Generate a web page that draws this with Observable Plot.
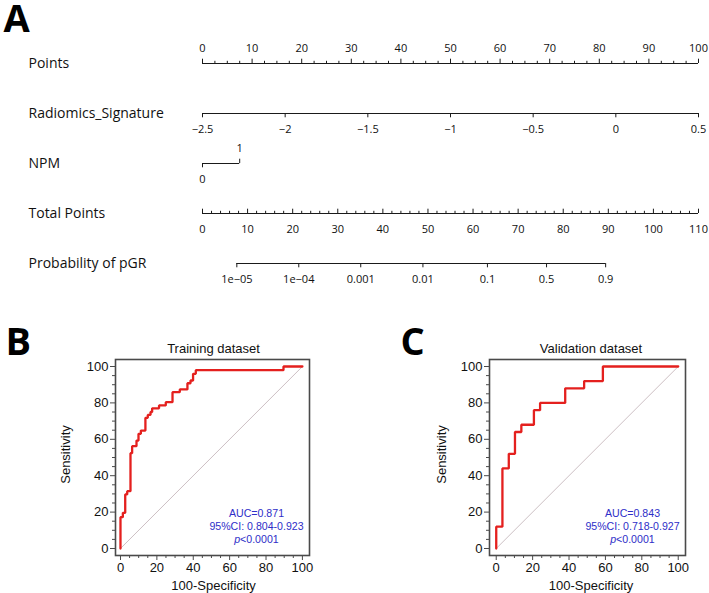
<!DOCTYPE html>
<html><head><meta charset="utf-8">
<script src="https://cdn.jsdelivr.net/npm/d3@7"></script>
<script src="https://cdn.jsdelivr.net/npm/@observablehq/plot@0.6"></script>
<style>
body{margin:0;background:#fff;}
#wrap{position:relative;width:709px;height:593px;overflow:hidden;background:#fff;}
#wrap > div{position:absolute;}
</style></head><body>
<div id="wrap"><div id="nom" style="left:0;top:0"></div><div id="rocB" style="left:0;top:300px"></div><div id="rocC" style="left:355px;top:300px"></div></div>
<script>
// ---------- Panel A: nomogram ----------
const rowNames = ["Points", "Radiomics_Signature", "NPM", "Total Points", "Probability of pGR"];
const pointsMajor = [0, 10, 20, 30, 40, 50, 60, 70, 80, 90, 100];
const pointsMinorStep = 2.5;
const radTicks = [-2.5, -2, -1.5, -1, -0.5, 0, 0.5];
const radLabels = ["\u22122.5", "\u22122", "\u22121.5", "\u22121", "\u22120.5", "0", "0.5"];
const npmLevels = ["0", "1"];
const npmPoints = [0, 7.5];
const totalMajor = [0, 10, 20, 30, 40, 50, 60, 70, 80, 90, 100, 110];
const totalMinorStep = 2;
const totalMax = 110;
const probTicks = [1e-5, 1e-4, 0.001, 0.01, 0.1, 0.5, 0.9];
const probLabels = ["1e\u221205", "1e\u221204", "0.001", "0.01", "0.1", "0.5", "0.9"];
const probIntercept = 76.3;   // total points at logit = 0
const probSlope = 5.966;      // total points per logit unit

const radToPts = v => (v - radTicks[0]) / (radTicks[radTicks.length - 1] - radTicks[0]) * 100;
const totToPts = t => t / totalMax * 100;
const probToPts = p => totToPts(probIntercept + probSlope * Math.log(p / (1 - p)));

const axesLines = [
  {row: rowNames[0], x1: 0, x2: 100},
  {row: rowNames[1], x1: radToPts(radTicks[0]), x2: radToPts(radTicks[radTicks.length - 1])},
  {row: rowNames[2], x1: npmPoints[0], x2: npmPoints[1]},
  {row: rowNames[3], x1: 0, x2: totToPts(totalMax)},
  {row: rowNames[4], x1: probToPts(probTicks[0]), x2: probToPts(probTicks[probTicks.length - 1])}
];
const upMajor = [], upMinor = [], downMajor = [], above = [], below = [];
pointsMajor.forEach(v => { upMajor.push({row: rowNames[0], x: v}); above.push({row: rowNames[0], x: v, t: String(v)}); });
d3.range(0, 100.001, pointsMinorStep).filter(v => v % 10 !== 0).forEach(v => upMinor.push({row: rowNames[0], x: v}));
radTicks.forEach((v, i) => { downMajor.push({row: rowNames[1], x: radToPts(v)}); below.push({row: rowNames[1], x: radToPts(v), t: radLabels[i]}); });
downMajor.push({row: rowNames[2], x: npmPoints[0]}); below.push({row: rowNames[2], x: npmPoints[0], t: npmLevels[0]});
upMajor.push({row: rowNames[2], x: npmPoints[1]}); above.push({row: rowNames[2], x: npmPoints[1], t: npmLevels[1]});
totalMajor.forEach(v => { upMajor.push({row: rowNames[3], x: totToPts(v)}); below.push({row: rowNames[3], x: totToPts(v), t: String(v)}); });
d3.range(0, totalMax + 0.001, totalMinorStep).filter(v => v % 10 !== 0).forEach(v => upMinor.push({row: rowNames[3], x: totToPts(v)}));
probTicks.forEach((p, i) => { downMajor.push({row: rowNames[4], x: probToPts(p)}); below.push({row: rowNames[4], x: probToPts(p), t: probLabels[i]}); });

const nom = Plot.plot({
  width: 709, height: 300,
  marginLeft: 202, marginRight: 11, marginTop: 0, marginBottom: 0,
  x: {domain: [0, 100], axis: null},
  y: {type: "point", domain: rowNames, range: [61, 264], padding: 0, axis: null},
  style: {fontFamily: "'Open Sans', 'Noto Sans', sans-serif", fontSize: "11px", color: "#111", background: "white"},
  marks: [
    Plot.ruleY(axesLines, {y: "row", x1: "x1", x2: "x2", stroke: "#1a1a1a", strokeWidth: 1.1}),
    Plot.ruleX(upMajor, {x: "x", y1: "row", y2: "row", insetTop: -4.3, insetBottom: 0, stroke: "#1a1a1a", strokeWidth: 1}),
    Plot.ruleX(upMinor, {x: "x", y1: "row", y2: "row", insetTop: -2.2, insetBottom: 0, stroke: "#1a1a1a", strokeWidth: 1}),
    Plot.ruleX(downMajor, {x: "x", y1: "row", y2: "row", insetTop: 0, insetBottom: -4.3, stroke: "#1a1a1a", strokeWidth: 1}),
    Plot.text(above, {x: "x", y: "row", text: "t", dy: -15, fontSize: 11, fill: "#111"}),
    Plot.text(below, {x: "x", y: "row", text: "t", dy: 15.5, fontSize: 11, fill: "#111"}),
    Plot.text(rowNames, {y: d => d, text: d => d, frameAnchor: "left", dx: -174, dy: 0.5, textAnchor: "start", fontSize: 14, fill: "#111"}),
    Plot.text(["A"], {frameAnchor: "top-left", dx: -199, dy: 5, textAnchor: "start", lineAnchor: "top", fontSize: 38, fontWeight: "bold", fill: "#000"})
  ]
});
document.getElementById("nom").appendChild(nom);

// ---------- Panels B & C: ROC curves ----------
const trainFpr = [0, 0, 1.3, 2.6, 3.7, 5.5, 6.4, 8.8, 9.9, 11.2, 13.7, 15.0, 16.5, 17.4, 21.2, 24.9, 28.6, 32.6, 36.8, 38.5, 39.9, 41.4, 89.6, 100];
const trainTpr = [0, 17.2, 19.6, 29.7, 31.5, 52.4, 56.2, 59.3, 63.0, 64.8, 71.8, 73.4, 75.0, 77.0, 78.6, 80.4, 85.9, 87.4, 90.8, 92.3, 96.0, 98.0, 100, 100];
const validFpr = [0, 0, 3.4, 6.9, 10.3, 13.8, 20.7, 24.1, 37.9, 48.3, 58.6, 100];
const validTpr = [0, 12, 44, 52, 64, 68, 76, 80, 88, 92, 100, 100];
const diag = [0, 100];
const rocTicksMajor = [0, 20, 40, 60, 80, 100];
const rocTicksMinor = [5, 10, 15, 25, 30, 35, 45, 50, 55, 65, 70, 75, 85, 90, 95];

function roc(o) {
  const data = o.fpr.map((f, i) => ({fpr: f, tpr: o.tpr[i]}));
  const blue = "#2e2ec8";
  return Plot.plot({
    width: o.width, height: 293,
    marginLeft: o.ml, marginRight: o.mr, marginTop: 59, marginBottom: 38,
    x: {domain: o.xd, axis: null},
    y: {domain: [-3.85, 103.85], axis: null},
    style: {fontFamily: "'Liberation Sans', Arial, sans-serif", fontSize: "13px", color: "#111", background: "white"},
    marks: [
      Plot.line(diag, {x: d => d, y: d => d, stroke: "#bfaeb4", strokeWidth: 0.8}),
      Plot.line(data, {x: "fpr", y: "tpr", curve: "step-after", stroke: "#e4201e", strokeWidth: 2.3, strokeLinejoin: "miter"}),
      Plot.frame({stroke: "#4a4a4a", strokeWidth: 1.6}),
      Plot.axisY({ticks: rocTicksMinor, tickSize: 3, tickFormat: () => "", stroke: "#4a4a4a", label: null}),
      Plot.axisY({ticks: rocTicksMajor, tickSize: 5, tickPadding: 2, fontSize: 13, stroke: "#4a4a4a", fill: "#111", label: null}),
      Plot.axisX({ticks: rocTicksMinor, tickSize: 3, tickFormat: () => "", stroke: "#4a4a4a", label: null}),
      Plot.axisX({ticks: rocTicksMajor, tickSize: 5, tickPadding: 2, fontSize: 13, stroke: "#4a4a4a", fill: "#111", label: null}),
      Plot.text([o.title], {frameAnchor: "top", dx: o.cdx, dy: -11, lineAnchor: "middle", textAnchor: "middle", fontSize: 13, fill: "#111"}),
      Plot.text(["100-Specificity"], {frameAnchor: "bottom", dx: o.cdx, dy: 30, lineAnchor: "middle", textAnchor: "middle", fontSize: 13, fill: "#111"}),
      Plot.text(["Sensitivity"], {frameAnchor: "left", dx: o.sdx, dy: -3, rotate: -90, lineAnchor: "middle", textAnchor: "middle", fontSize: 13, fill: "#111"}),
      Plot.text([o.auc], {frameAnchor: "bottom-right", dx: -53, dy: -42, textAnchor: "middle", lineAnchor: "middle", fontSize: 10.6, fill: blue}),
      Plot.text([o.ci], {frameAnchor: "bottom-right", dx: -53, dy: -28.5, textAnchor: "middle", lineAnchor: "middle", fontSize: 10.6, fill: blue}),
      Plot.text(["p"], {frameAnchor: "bottom-right", dx: -75.3, dy: -16, textAnchor: "start", lineAnchor: "middle", fontSize: 10.6, fontStyle: "italic", fill: blue}),
      Plot.text(["<0.0001"], {frameAnchor: "bottom-right", dx: -69.4, dy: -16, textAnchor: "start", lineAnchor: "middle", fontSize: 10.6, fill: blue}),
      Plot.text([o.letter], {frameAnchor: "top-left", dx: o.ldx, dy: -31, textAnchor: "start", lineAnchor: "top", fontSize: 38, fontWeight: "bold", fontFamily: "'Open Sans', sans-serif", fill: "#000"})
    ]
  });
}

document.getElementById("rocB").appendChild(roc({
  fpr: trainFpr, tpr: trainTpr, width: 355, ml: 115, mr: 46, xd: [-2.74, 103.9],
  title: "Training dataset", auc: "AUC=0.871", ci: "95%CI: 0.804-0.923", letter: "B", cdx: 1, sdx: -50, ldx: -110
}));
document.getElementById("rocC").appendChild(roc({
  fpr: validFpr, tpr: validTpr, width: 354, ml: 134, mr: 24, xd: [-3.7, 104.0],
  title: "Validation dataset", auc: "AUC=0.843", ci: "95%CI: 0.718-0.927", letter: "C", cdx: 3.5, sdx: -47.5, ldx: -89
}));
</script>
</body></html>
